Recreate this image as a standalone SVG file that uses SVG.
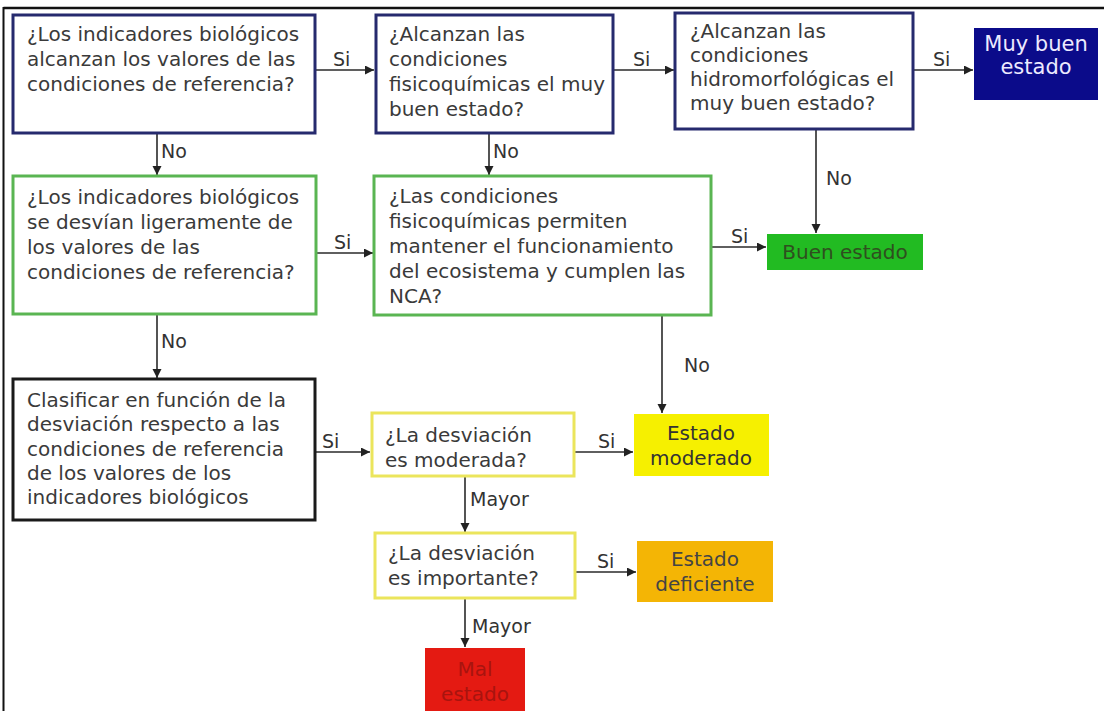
<svg xmlns="http://www.w3.org/2000/svg" width="1104" height="711" viewBox="0 0 1104 711">
<defs>
<marker id="ah" markerUnits="userSpaceOnUse" markerWidth="10" markerHeight="10" refX="9" refY="4.5" orient="auto">
<path d="M0,0 L9,4.5 L0,9 z" fill="#222"/>
</marker>
<style>
.t{font-family:"DejaVu Sans",sans-serif;font-size:20px;fill:#3a3a3a}
.lb{font-family:"DejaVu Sans",sans-serif;font-size:19px;fill:#333}
.nv{fill:#fff;stroke:#262a6e;stroke-width:3}
.gr{fill:#fff;stroke:#5ab552;stroke-width:3}
.bk{fill:#fff;stroke:#1a1a1a;stroke-width:3}
.yl{fill:#fff;stroke:#ebe55c;stroke-width:3}
.c{fill:none;stroke:#2a2a2a;stroke-width:1.6;marker-end:url(#ah)}
.mid{text-anchor:middle}
</style>
</defs>
<rect width="1104" height="711" fill="#fff"/>
<g id="frame" stroke="#111" fill="none">
<line x1="3.5" y1="8" x2="1104" y2="8" stroke-width="2.6"/>
<line x1="3.5" y1="7" x2="3.5" y2="711" stroke-width="2"/>
</g>
<g id="connectors">
<path class="c" d="M315,70 H374"/>
<path class="c" d="M613,70 H674"/>
<path class="c" d="M913,70 H973"/>
<path class="c" d="M157,133 V175"/>
<path class="c" d="M489,133 V175"/>
<path class="c" d="M816,129 V233"/>
<path class="c" d="M316,253 H373"/>
<path class="c" d="M711,247 H766"/>
<path class="c" d="M157,314 V378"/>
<path class="c" d="M662,315 V413"/>
<path class="c" d="M315,452 H370"/>
<path class="c" d="M574,452 H633"/>
<path class="c" d="M465,476 V532"/>
<path class="c" d="M575,572 H636"/>
<path class="c" d="M465,598 V647"/>
<text class="lb" x="333" y="66">Si</text>
<text class="lb" x="633" y="66">Si</text>
<text class="lb" x="933" y="66">Si</text>
<text class="lb" x="161" y="158">No</text>
<text class="lb" x="493" y="158">No</text>
<text class="lb" x="826" y="185">No</text>
<text class="lb" x="334" y="249">Si</text>
<text class="lb" x="731" y="243">Si</text>
<text class="lb" x="161" y="348">No</text>
<text class="lb" x="684" y="372">No</text>
<text class="lb" x="322" y="448">Si</text>
<text class="lb" x="598" y="448">Si</text>
<text class="lb" x="470" y="506">Mayor</text>
<text class="lb" x="597" y="568">Si</text>
<text class="lb" x="472" y="633">Mayor</text>
</g>
<g id="n1">
<rect class="nv" x="13" y="15" width="302" height="118"/>
<text class="t" x="27" y="41">¿Los indicadores biológicos</text>
<text class="t" x="27" y="66">alcanzan los valores de las</text>
<text class="t" x="27" y="91">condiciones de referencia?</text>
</g>
<g id="n2">
<rect class="nv" x="376" y="15" width="237" height="118"/>
<text class="t" x="389" y="41">¿Alcanzan las</text>
<text class="t" x="389" y="66">condiciones</text>
<text class="t" x="389" y="91">fisicoquímicas el muy</text>
<text class="t" x="389" y="116">buen estado?</text>
</g>
<g id="n3">
<rect class="nv" x="675" y="13" width="238" height="116"/>
<text class="t" x="690" y="38">¿Alcanzan las</text>
<text class="t" x="690" y="62">condiciones</text>
<text class="t" x="690" y="86">hidromorfológicas el</text>
<text class="t" x="690" y="110">muy buen estado?</text>
</g>
<g id="n4">
<rect x="974" y="28" width="124" height="72" fill="#0b0b8a"/>
<text class="t mid" x="1036" y="51" style="fill:#eceaff;font-size:21px">Muy buen</text>
<text class="t mid" x="1036" y="74" style="fill:#eceaff;font-size:21px">estado</text>
</g>
<g id="n5">
<rect class="gr" x="13" y="176" width="303" height="138"/>
<text class="t" x="27" y="204">¿Los indicadores biológicos</text>
<text class="t" x="27" y="229">se desvían ligeramente de</text>
<text class="t" x="27" y="254">los valores de las</text>
<text class="t" x="27" y="279">condiciones de referencia?</text>
</g>
<g id="n6">
<rect class="gr" x="374" y="176" width="337" height="139"/>
<text class="t" x="389" y="203">¿Las condiciones</text>
<text class="t" x="389" y="228">fisicoquímicas permiten</text>
<text class="t" x="389" y="253">mantener el funcionamiento</text>
<text class="t" x="389" y="278">del ecosistema y cumplen las</text>
<text class="t" x="389" y="303">NCA?</text>
</g>
<g id="n7">
<rect x="767" y="234" width="156" height="36" fill="#22bb22"/>
<text class="t mid" x="845" y="259" style="fill:#2f4f1f">Buen estado</text>
</g>
<g id="n8">
<rect class="bk" x="13" y="379" width="302" height="141"/>
<text class="t" x="27" y="407">Clasificar en función de la</text>
<text class="t" x="27" y="431">desviación respecto a las</text>
<text class="t" x="27" y="456">condiciones de referencia</text>
<text class="t" x="27" y="480">de los valores de los</text>
<text class="t" x="27" y="504">indicadores biológicos</text>
</g>
<g id="n9">
<rect class="yl" x="372" y="413" width="202" height="63"/>
<text class="t" x="385" y="442">¿La desviación</text>
<text class="t" x="385" y="467">es moderada?</text>
</g>
<g id="n10">
<rect x="634" y="414" width="135" height="62" fill="#f6f000"/>
<text class="t mid" x="701" y="440" style="fill:#333">Estado</text>
<text class="t mid" x="701" y="465" style="fill:#333">moderado</text>
</g>
<g id="n11">
<rect class="yl" x="375" y="533" width="200" height="65"/>
<text class="t" x="388" y="560">¿La desviación</text>
<text class="t" x="388" y="585">es importante?</text>
</g>
<g id="n12">
<rect x="637" y="541" width="136" height="61" fill="#f4b505"/>
<text class="t mid" x="705" y="566" style="fill:#444">Estado</text>
<text class="t mid" x="705" y="591" style="fill:#444">deficiente</text>
</g>
<g id="n13">
<rect x="425" y="648" width="100" height="63" fill="#e41a12"/>
<text class="t mid" x="475" y="676" style="fill:#a8140f">Mal</text>
<text class="t mid" x="475" y="701" style="fill:#a8140f">estado</text>
</g>
</svg>
